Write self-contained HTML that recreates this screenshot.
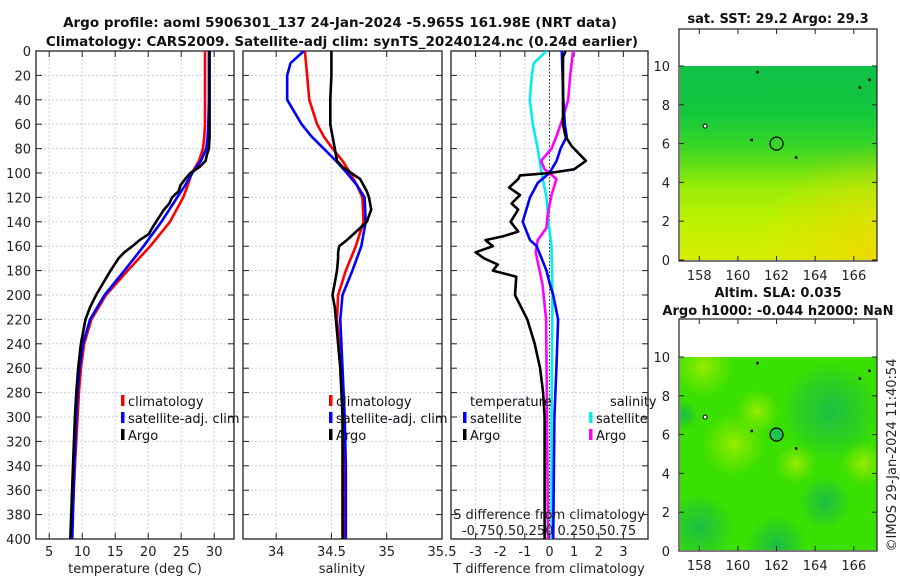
<!DOCTYPE html>
<html><head><meta charset="utf-8">
<style>
html,body{margin:0;padding:0;background:#fff;}
svg{display:block;font-family:"DejaVu Sans","Liberation Sans",sans-serif;}
</style></head>
<body>
<svg id="fig" width="900" height="580" viewBox="0 0 900 580" xmlns="http://www.w3.org/2000/svg">
<defs>
<linearGradient id="sstg" x1="0" y1="0" x2="0" y2="1">
<stop offset="0" stop-color="#10c048"/><stop offset="0.25" stop-color="#14c83c"/>
<stop offset="0.4" stop-color="#34d428"/><stop offset="0.5" stop-color="#5cdc18"/>
<stop offset="0.62" stop-color="#98ec08"/><stop offset="0.8" stop-color="#bef200"/>
<stop offset="1" stop-color="#d6ee00"/></linearGradient>
<radialGradient id="sstor" cx="1" cy="1" r="0.6"><stop offset="0" stop-color="#f0d800" stop-opacity="0.9"/><stop offset="1" stop-color="#f0d800" stop-opacity="0"/></radialGradient>
<radialGradient id="yb" cx="0.5" cy="0.5" r="0.5"><stop offset="0" stop-color="#a8f000" stop-opacity="0.85"/><stop offset="0.6" stop-color="#80e800" stop-opacity="0.5"/><stop offset="1" stop-color="#80e800" stop-opacity="0"/></radialGradient>
<radialGradient id="db" cx="0.5" cy="0.5" r="0.5"><stop offset="0" stop-color="#18b850" stop-opacity="0.85"/><stop offset="0.6" stop-color="#1cc040" stop-opacity="0.5"/><stop offset="1" stop-color="#1cc040" stop-opacity="0"/></radialGradient>
<clipPath id="c1"><rect x="36" y="51" width="198" height="488"/></clipPath>
<clipPath id="c2"><rect x="243" y="51" width="199" height="488"/></clipPath>
<clipPath id="c3"><rect x="451" y="51" width="197" height="488"/></clipPath>
<clipPath id="cm1"><rect x="680" y="66" width="197" height="194"/></clipPath>
<clipPath id="cm2"><rect x="680" y="357" width="197" height="193"/></clipPath>
</defs>
<g id="root"></g>
</svg>
<script>
// ---- data ----
const climDepth = [0,10,20,40,60,70,80,90,100,110,120,140,160,180,200,220,240,260,280,300,340,400];
const climT = [28.6,28.6,28.6,28.6,28.6,28.5,28.3,27.7,26.6,26.0,25.3,23.3,20.3,16.9,13.6,11.4,10.3,9.8,9.5,9.3,8.9,8.4];
const satT  = [29.2,29.2,29.2,29.2,29.1,29.0,28.8,28.0,26.7,25.6,24.4,22.0,19.3,16.4,13.4,11.2,10.1,9.6,9.3,9.1,8.8,8.5];
const argoDepth = [0,10,20,40,60,70,80,85,90,95,100,105,110,115,120,125,130,140,145,150,155,160,165,170,180,190,200,210,220,240,260,280,300,340,400];
const argoT = [29.3,29.3,29.3,29.3,29.3,29.3,29.2,28.9,28.7,27.8,26.4,25.6,24.9,24.6,23.6,23.2,22.4,21.2,20.6,20.1,18.7,17.6,16.4,15.5,14.3,13.2,12.1,11.2,10.5,9.8,9.4,9.1,8.9,8.6,8.2];
const climS = [34.26,34.27,34.28,34.30,34.37,34.43,34.51,34.60,34.67,34.73,34.78,34.79,34.72,34.63,34.56,34.55,34.57,34.59,34.60,34.61,34.62,34.62];
const satS  = [34.25,34.13,34.10,34.10,34.23,34.32,34.43,34.54,34.64,34.73,34.80,34.81,34.77,34.69,34.60,34.58,34.59,34.60,34.61,34.62,34.63,34.63];
const argoS = [34.50,34.50,34.50,34.49,34.49,34.51,34.53,34.54,34.55,34.60,34.68,34.76,34.79,34.82,34.84,34.85,34.86,34.82,34.76,34.70,34.64,34.57,34.56,34.56,34.55,34.53,34.51,34.53,34.54,34.56,34.58,34.59,34.60,34.60,34.60];
const satTdiffDepth = [0,40,60,70,80,90,100,108,120,140,155,160,180,190,200,220,260,300,400];
const satTdiff = [0.50,0.56,0.62,0.70,0.45,0.29,0.0,-0.47,-0.79,-1.09,-0.79,-0.52,-0.12,0.0,0.15,0.35,0.28,0.2,0.15];
const argoTdiffDepth = [0,5,60,70,78,90,97,100,102,105,112,118,125,130,140,148,152,155,160,165,170,175,180,185,200,220,240,260,280,300,340,400];
const argoTdiff = [0.65,0.55,0.55,0.65,0.9,1.48,1.0,0,-1.2,-1.27,-1.64,-1.2,-1.54,-1.27,-1.58,-1.27,-1.9,-2.6,-2.3,-3.0,-2.65,-2.1,-2.3,-1.35,-1.4,-0.9,-0.6,-0.38,-0.26,-0.2,-0.2,-0.2];
const sDiffDepth = [0,10,20,40,60,80,100,120,140,160,200,300,400];
const satSdiff = [-0.03,-0.16,-0.18,-0.20,-0.17,-0.12,-0.08,-0.03,-0.01,0.02,0.03,0.02,0.02];
const argoSdiffDepth = [0,20,40,55,70,80,90,97,100,105,118,135,145,155,165,180,192,220,300,400];
const argoSdiff = [0.24,0.21,0.19,0.135,0.07,0.02,-0.085,-0.05,0.0,0.07,0.02,-0.02,-0.03,-0.12,-0.14,-0.10,-0.07,-0.035,-0.025,-0.015];
const depthTicks = [0,20,40,60,80,100,120,140,160,180,200,220,240,260,280,300,320,340,360,380,400];
const tTicks = [5,10,15,20,25,30];
const sTicks = [34,34.5,35,35.5];
const dTicks = [-3,-2,-1,0,1,2,3];
const latTicks = [0,2,4,6,8,10];
const lonTicks = [158,160,162,164,166];

// ---- axes ----
const yD = d => 51 + d*(488/400);
const xT = t => 36 + (t-3)*(198/30);
const xS = s => 243 + (s-33.7)*(199/1.8);
const xDf = v => 549.5 + v*(197/8);
const xSd = v => xDf(v*4);
const lonX1 = l => 680 + (l-157)*(197/10.2);
const latY1 = a => 260 - a*19.4;
const latY2 = a => 551 - a*19.4;

const NS = "http://www.w3.org/2000/svg";
const root = document.getElementById('root');
function mk(tag, attrs, parent){const e=document.createElementNS(NS,tag);for(const k in attrs)e.setAttribute(k,attrs[k]);(parent||root).appendChild(e);return e;}
function txt(x,y,s,size,anchor,extra,parent){const e=mk('text',Object.assign({x:x,y:y,'font-size':size,'text-anchor':anchor||'middle',fill:'#222'},extra||{}),parent);e.textContent=s;return e;}

function panel(x0,x1,xticks,xf,labels,name){
  const g=mk('g',{});
  
  
  mk('rect',{x:x0,y:51,width:x1-x0,height:488,fill:'#fff'},g);
  depthTicks.forEach(d=>{ if(d>0&&d<400) mk('line',{x1:x0,x2:x1,y1:yD(d),y2:yD(d),stroke:'#c8d0ee','stroke-dasharray':'2,2','stroke-width':1},g);});
  xticks.forEach(t=>{const x=xf(t); if(x>x0+1&&x<x1-1) mk('line',{x1:x,x2:x,y1:51,y2:539,stroke:'#c8d0ee','stroke-dasharray':'2,2','stroke-width':1},g);});
  return g;
}
function frame(x0,x1,xticks,xf,g){
  mk('rect',{x:x0,y:51,width:x1-x0,height:488,fill:'none',stroke:'#222','stroke-width':1.3},g);
  depthTicks.forEach(d=>{mk('line',{x1:x0,x2:x0+6,y1:yD(d),y2:yD(d),stroke:'#222'},g);mk('line',{x1:x1-6,x2:x1,y1:yD(d),y2:yD(d),stroke:'#222'},g);});
  xticks.forEach(t=>{const x=xf(t); if(x>=x0-1&&x<=x1+1){mk('line',{x1:x,x2:x,y1:539,y2:533,stroke:'#222'},g);mk('line',{x1:x,x2:x,y1:51,y2:57,stroke:'#222'},g);}});
}
function line(depths,vals,xf,color,clip,name,w){
  const p=depths.map((d,i)=>(i?'L':'M')+xf(vals[i]).toFixed(1)+','+yD(d).toFixed(1)).join('');
  const e=mk('path',{d:p,fill:'none',stroke:color,'stroke-width':w||2.6,'stroke-linejoin':'round','clip-path':'url(#'+clip+')'});
  
  
}

// Panel 1
const g1=panel(36,234,tTicks,xT,true,'temperature-panel');
line(climDepth,climT,xT,'#ff0000','c1','clim-temperature-line');
line(climDepth,satT,xT,'#0000ff','c1','satellite-temperature-line');
line(argoDepth,argoT,xT,'#000000','c1','argo-temperature-line');
frame(36,234,tTicks,xT,g1);
depthTicks.forEach(d=>{const t=txt(31,yD(d)+5,String(d),13,'end');});
tTicks.forEach(t=>{const e=txt(xT(t),556,String(t),13);});
{const e=txt(135,573,'temperature (deg C)',13);}

// Panel 2
const g2=panel(243,442,sTicks,xS,false,'salinity-panel');
line(climDepth,climS,xS,'#ff0000','c2','clim-salinity-line');
line(climDepth,satS,xS,'#0000ff','c2','satellite-salinity-line');
line(argoDepth,argoS,xS,'#000000','c2','argo-salinity-line');
frame(243,442,sTicks,xS,g2);
sTicks.forEach(s=>{const e=txt(xS(s),556,String(s),13);});
{const e=txt(342,573,'salinity',13);}

// Panel 3
const g3=panel(451,648,dTicks,xDf,false,'difference-panel');
mk('line',{x1:xDf(0),x2:xDf(0),y1:51,y2:539,stroke:'#333','stroke-dasharray':'1.5,2','stroke-width':1},g3);
line(sDiffDepth,satSdiff,xSd,'#00eeee','c3','satellite-salinity-diff-line');
line(argoSdiffDepth,argoSdiff,xSd,'#ff00ff','c3','argo-salinity-diff-line');
line(satTdiffDepth,satTdiff,xDf,'#0000ff','c3','satellite-temperature-diff-line');
line(argoTdiffDepth,argoTdiff,xDf,'#000000','c3','argo-temperature-diff-line');
frame(451,648,dTicks,xDf,g3);
dTicks.forEach(v=>{const e=txt(xDf(v),556,String(v),13);});
{const e=txt(549,573,'T difference from climatology',13);}
{const e=txt(549,519,'S difference from climatology',13);}
{const e=txt(549,535,'-0.750.50.250 0.250.50.75',13);}

// legends
function legItem(x,y,color,label,name){
  const g=mk('g',{});
  
  
  if(color) mk('rect',{x:x,y:y-6,width:3.5,height:11,fill:color},g);
  txt(x+(color?7:0),y+5,label,13,'start',{fill:'#111'},g);
}
legItem(121,401,'#ff0000','climatology','legend-climatology');
legItem(121,418,'#0000ff','satellite-adj. clim','legend-satellite-adj');
legItem(121,435,'#000000','Argo','legend-argo');
legItem(329,401,'#ff0000','climatology','legend-climatology-2');
legItem(329,418,'#0000ff','satellite-adj. clim','legend-satellite-adj-2');
legItem(329,435,'#000000','Argo','legend-argo-2');
legItem(470,401,null,'temperature','legend-temperature-heading');
legItem(463,418,'#0000ff','satellite','legend-temp-satellite');
legItem(463,435,'#000000','Argo','legend-temp-argo');
legItem(610,401,null,'salinity','legend-salinity-heading');
legItem(589,418,'#00eeee','satellite','legend-sal-satellite');
legItem(589,435,'#ff00ff','Argo','legend-sal-argo');

// titles
{const e=txt(340,27,'Argo profile: aoml 5906301_137 24-Jan-2024 -5.965S 161.98E (NRT data)',13.5,'middle',{'font-weight':'bold',fill:'#111'});}
{const e=txt(342,46,'Climatology: CARS2009. Satellite-adj clim: synTS_20240124.nc (0.24d earlier)',13.5,'middle',{'font-weight':'bold',fill:'#111'});}

// maps
function map(yTop,yBot,latY,kind,name){
  const g=mk('g',{});
  
  
  mk('rect',{x:679,y:yTop,width:198,height:yBot-yTop,fill:'#fff'},g);
  const clip=kind==='sst'?'cm1':'cm2';
  const top=latY(10.05);
  const gg=mk('g',{'clip-path':'url(#'+clip+')'},g);
  if(kind==='sst'){
    mk('rect',{x:679,y:top,width:198,height:yBot-top,fill:'url(#sstg)'},gg);
    mk('rect',{x:679,y:top,width:198,height:yBot-top,fill:'url(#sstor)'},gg);
  } else {
    mk('rect',{x:679,y:top,width:198,height:yBot-top,fill:'#3ae000'},gg);
    const blobs=[[158.2,9.5,30,'yb'],[159.8,5.5,32,'yb'],[161,7.2,22,'yb'],[163,4.5,20,'yb'],[166.5,4.5,22,'yb'],[164.8,7.2,50,'db'],[158,1.2,34,'db'],[162,0.3,30,'db'],[164.5,2.5,26,'db'],[157.2,7,14,'db']];
    blobs.forEach(b=>mk('circle',{cx:lonX1(b[0]),cy:latY(b[1]),r:b[2],fill:'url(#'+b[3]+')'},gg));
  }
  mk('circle',{cx:lonX1(162),cy:latY(6),r:6.5,fill:kind==='sst'?'none':'#20c050',stroke:'#000','stroke-width':1.2},g);
  mk('circle',{cx:lonX1(158.3),cy:latY(6.9),r:2,fill:'#fff',stroke:'#000'},g);
  [[163,5.3],[160.7,6.2],[161,9.7],[166.3,8.9],[166.8,9.3]].forEach(p=>mk('rect',{x:lonX1(p[0])-1,y:latY(p[1])-1,width:2.5,height:2.5,fill:'#000'},g));
  mk('rect',{x:679,y:yTop,width:198,height:yBot-yTop,fill:'none',stroke:'#222','stroke-width':1.2},g);
  latTicks.forEach(a=>{const y=latY(a);mk('line',{x1:679,x2:684,y1:y,y2:y,stroke:'#222'},g);mk('line',{x1:872,x2:877,y1:y,y2:y,stroke:'#222'},g);txt(670,y+5,String(a),13,'end',{},g);});
  lonTicks.forEach(l=>{const x=lonX1(l);mk('line',{x1:x,x2:x,y1:yBot,y2:yBot-5,stroke:'#222'},g);mk('line',{x1:x,x2:x,y1:yTop,y2:yTop+5,stroke:'#222'},g);txt(x,yBot+19,String(l),13,'middle',{},g);});
}
map(29,261,latY1,'sst','sst-map');
map(319,551,latY2,'sla','sla-map');
{const e=txt(778,23,'sat. SST: 29.2 Argo: 29.3',13,'middle',{'font-weight':'bold',fill:'#111'});}
{const e=txt(778,297,'Altim. SLA: 0.035',13,'middle',{'font-weight':'bold',fill:'#111'});}
{const e=txt(778,315,'Argo h1000: -0.044 h2000: NaN',13,'middle',{'font-weight':'bold',fill:'#111'});}
{const e=txt(0,0,'©IMOS 29-Jan-2024 11:40:54',13,'middle',{transform:'translate(896,455) rotate(-90)'});}
</script>
</body></html>
